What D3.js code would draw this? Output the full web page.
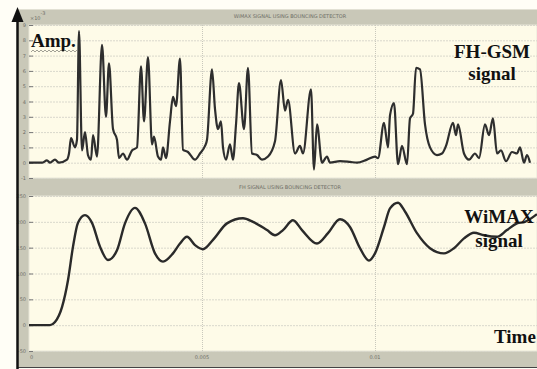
<!DOCTYPE html>
<html>
<head>
<meta charset="utf-8">
<script src="https://cdn.jsdelivr.net/npm/d3@7"></script>
<style>
  html, body { margin: 0; padding: 0; background: #fffef6; }
  svg { display: block; }
  .tiny { font-family: "DejaVu Sans", sans-serif; font-size: 5px; fill: #6e6e66; }
  .note { font-family: "Liberation Serif", serif; font-weight: bold; font-size: 19px; fill: #111; }
</style>
</head>
<body>
<div id="chart"></div>
<script>
// time in ms, amplitude in units of 1e-3
const topTime = [0, 0.376, 0.52, 0.607, 0.751, 0.867, 1.098, 1.156, 1.214, 1.329, 1.387, 1.445, 1.532, 1.618, 1.705, 1.792, 1.85, 1.965,
  2.11, 2.225, 2.312, 2.428, 2.543, 2.601, 2.717, 2.832, 2.977, 3.121, 3.237, 3.324, 3.439, 3.555, 3.613, 3.728, 3.815, 3.873, 3.96,
  4.075, 4.162, 4.249, 4.364, 4.451, 4.595, 4.798, 4.942, 5.087, 5.145, 5.289, 5.376, 5.462, 5.549, 5.607, 5.694, 5.809, 5.896, 5.983,
  6.069, 6.214, 6.329, 6.445, 6.59, 6.734, 6.908, 7.11, 7.283, 7.399, 7.486, 7.688, 7.832, 7.919, 8.15, 8.237, 8.324, 8.468, 8.613,
  8.699, 8.988, 9.277, 9.48, 9.769, 10.0, 10.087, 10.26, 10.376, 10.434, 10.549, 10.665, 10.78, 10.925, 11.012, 11.098, 11.185, 11.301,
  11.445, 11.59, 11.792, 11.936, 12.052, 12.254, 12.341, 12.399, 12.572, 12.717, 12.89, 13.006, 13.179, 13.295, 13.41, 13.526, 13.642,
  13.786, 13.96, 14.104, 14.191, 14.306, 14.393, 14.48];
const topAmp = [0, 0, 0.15, 0, 0.2, 0, 0.2, 0.6, 1.6, 1.0, 1.5, 8.6, 0.8, 2.0, 0.5, 0.2, 1.8, 0.4,
  7.7, 3.0, 6.5, 2.2, 1.5, 0.3, 0.6, 0.2, 0.8, 1.0, 6.3, 2.7, 6.9, 1.2, 1.7, 0.4, 0.2, 1.0, 0.3,
  2.7, 4.3, 3.7, 6.8, 0.85, 0.7, 0.2, 0.6, 1.1, 1.5, 6.1, 3.5, 2.2, 2.7, 1.0, 0.2, 1.2, 0.2, 2.5,
  5.2, 2.2, 6.2, 0.6, 0.5, 0.2, 0.4, 1.4, 5.4, 3.4, 4.1, 0.6, 1.1, 0.6, 4.8, -0.45, 2.5, 0, 0.4,
  0, 0.1, 0.05, 0, 0.2, 0.4, 0.3, 2.6, 1.0, 3.1, 3.9, -0.1, 1.1, -0.1, 2.9, 3.2, 6.2, 6.1,
  2.5, 1.0, 0.5, 0.6, 1.1, 2.6, 1.8, 2.5, 0.6, 0.2, 0.6, 0.3, 2.5, 1.8, 2.9, 0.6, 0.8,
  0.1, 0.7, 0.6, 1.0, 0.0, 0.5, 0.0];

const botTime = [0, 0.607, 0.751, 0.954, 1.127, 1.272, 1.416, 1.618, 1.821, 2.052, 2.283, 2.543, 2.774, 3.063, 3.352, 3.641, 3.873,
  4.162, 4.364, 4.566, 4.798, 5.029, 5.318, 5.722, 6.185, 6.474, 6.878, 7.11, 7.341, 7.63, 7.89, 8.323, 8.641, 8.988, 9.277, 9.566,
  9.826, 10.0, 10.26, 10.434, 10.665, 10.866, 11.213, 11.589, 11.994, 12.283, 12.572, 12.861, 13.15, 13.525, 13.814, 14.103, 14.334, 14.681];
const botAmp = [0, 0, 6, 35, 87, 152, 198, 213, 198, 152, 126, 145, 197, 227, 197, 139, 123,
  139, 158, 171, 155, 147, 165, 197, 207, 200, 184, 174, 184, 203, 184, 158, 178, 205, 190, 149,
  125, 139, 190, 226, 237, 220, 178, 149, 139, 149, 168, 179, 174, 171, 184, 197, 200, 215];

const topTicks = [-1, 0, 1, 2, 3, 4, 5, 6, 7, 8, 9];
const botTicks = [-50, 0, 50, 100, 150, 200, 250];
const timeTicks = [0, 5, 10];

const W = 537, H = 369;
const frame = { left: 18, top: 9, bottom: 367 };
const plotL = 29;
const topBox = { y0: 25, y1: 178 };
const botBox = { y0: 196, y1: 351 };

const svg = d3.select('#chart').append('svg')
  .attr('width', W).attr('height', H);

svg.append('rect').attr('width', W).attr('height', H).attr('fill', '#fffef6');

// gray frame
svg.append('rect')
  .attr('x', frame.left).attr('y', frame.top)
  .attr('width', W - frame.left).attr('height', frame.bottom - frame.top)
  .attr('fill', '#c9c8b8');
svg.append('line')
  .attr('x1', frame.left).attr('x2', W).attr('y1', frame.top + 0.5).attr('y2', frame.top + 0.5)
  .attr('stroke', '#e2e1d4');
svg.append('line')
  .attr('x1', frame.left).attr('x2', W).attr('y1', frame.bottom + 0.5).attr('y2', frame.bottom + 0.5)
  .attr('stroke', '#444').attr('stroke-width', 1.2);

const x = d3.scaleLinear().domain([0, 15]).range([plotL, 548]);
const yTop = d3.scaleLinear().domain([-1, 9]).range([topBox.y1, topBox.y0]);
const yBot = d3.scaleLinear().domain([-50, 250]).range([botBox.y1, botBox.y0]);

function panel(box, y, ticks, title, id) {
  const g = svg.append('g');
  g.append('rect')
    .attr('x', plotL).attr('y', box.y0)
    .attr('width', W - plotL).attr('height', box.y1 - box.y0)
    .attr('fill', '#fefbe8').attr('stroke', '#e8e6d8').attr('stroke-width', 1);

  g.append('clipPath').attr('id', id)
    .append('rect').attr('x', plotL).attr('y', box.y0)
    .attr('width', W - plotL).attr('height', box.y1 - box.y0);

  // horizontal grid
  g.selectAll('.hg').data(ticks).enter().append('line')
    .attr('x1', plotL).attr('x2', W)
    .attr('y1', d => y(d) + 0.5).attr('y2', d => y(d) + 0.5)
    .attr('stroke', '#d9d8cc').attr('stroke-width', 1)
    .attr('stroke-dasharray', '2,1');
  // vertical grid
  g.selectAll('.vg').data(timeTicks.filter(t => t > 0)).enter().append('line')
    .attr('x1', d => x(d) + 0.5).attr('x2', d => x(d) + 0.5)
    .attr('y1', box.y0).attr('y2', box.y1)
    .attr('stroke', '#c9c8bc').attr('stroke-width', 1)
    .attr('stroke-dasharray', '1,1');

  // y ticks + labels
  g.selectAll('.tk').data(ticks).enter().append('line')
    .attr('x1', plotL).attr('x2', plotL + 4)
    .attr('y1', d => y(d) + 0.5).attr('y2', d => y(d) + 0.5)
    .attr('stroke', '#777');
  g.selectAll('.tl').data(ticks).enter().append('text')
    .attr('class', 'tiny')
    .attr('x', plotL - 3).attr('y', d => y(d) + 2)
    .attr('text-anchor', 'end')
    .text(d => d);

  g.append('text').attr('class', 'tiny')
    .attr('x', 290).attr('y', box.y0 - 7)
    .attr('text-anchor', 'middle')
    .text(title);
  return g;
}

const gTop = panel(topBox, yTop, topTicks, 'WiMAX SIGNAL USING BOUNCING DETECTOR', 'clipTop');
const gBot = panel(botBox, yBot, botTicks, 'FH SIGNAL USING BOUNCING DETECTOR', 'clipBot');

// x10^-3 label
const ex = svg.append('text').attr('class', 'tiny').attr('x', 30).attr('y', 20);
ex.append('tspan').text('\u00d710');
ex.append('tspan').attr('dy', -5).text('-3');

// time tick labels
svg.selectAll('.xl').data(timeTicks).enter().append('text')
  .attr('class', 'tiny')
  .attr('x', d => x(d) + (d === 0 ? 1 : 0)).attr('y', botBox.y1 + 8)
  .attr('text-anchor', d => d === 0 ? 'start' : 'middle')
  .text(d => d / 1000);

// signals
const topLine = d3.line()
  .x((d, i) => x(topTime[i]))
  .y(d => yTop(d))
  .curve(d3.curveMonotoneX);
gTop.append('path')
  .datum(topAmp)
  .attr('clip-path', 'url(#clipTop)')
  .attr('d', topLine)
  .attr('fill', 'none')
  .attr('stroke', '#2e2e2e')
  .attr('stroke-width', 2.2)
  .attr('stroke-linejoin', 'round');

const botLine = d3.line()
  .x((d, i) => x(botTime[i]))
  .y(d => yBot(d))
  .curve(d3.curveMonotoneX);
gBot.append('path')
  .datum(botAmp)
  .attr('clip-path', 'url(#clipBot)')
  .attr('d', botLine)
  .attr('fill', 'none')
  .attr('stroke', '#2a2a2a')
  .attr('stroke-width', 2.4);

// black axis arrow
svg.append('line')
  .attr('x1', 17.5).attr('x2', 17.5).attr('y1', 20).attr('y2', H)
  .attr('stroke', '#111').attr('stroke-width', 2.5);
svg.append('path')
  .attr('d', d3.line()([[17.5, 7], [11.5, 22], [23.5, 22]]) + 'Z')
  .attr('fill', '#111');

// annotations
const notes = [
  { t: 'Amp.', x: 31, y: 47, a: 'start' },
  { t: 'FH-GSM', x: 492, y: 58, a: 'middle' },
  { t: 'signal', x: 492, y: 80, a: 'middle' },
  { t: 'WiMAX', x: 499, y: 223, a: 'middle' },
  { t: 'signal', x: 499, y: 247, a: 'middle' },
  { t: 'Time', x: 494, y: 343, a: 'start' }
];
svg.selectAll('.note').data(notes).enter().append('text')
  .attr('class', 'note')
  .attr('x', d => d.x).attr('y', d => d.y)
  .attr('text-anchor', d => d.a)
  .text(d => d.t);

// wavy spell-check underline under "Amp."
const wave = d3.range(0, 24).map(i => [31 + i * 2, 51 + (i % 2 ? -1 : 1)]);
svg.append('path')
  .attr('d', d3.line()(wave))
  .attr('fill', 'none').attr('stroke', '#8a8a80').attr('stroke-width', 0.8);
</script>
</body>
</html>
